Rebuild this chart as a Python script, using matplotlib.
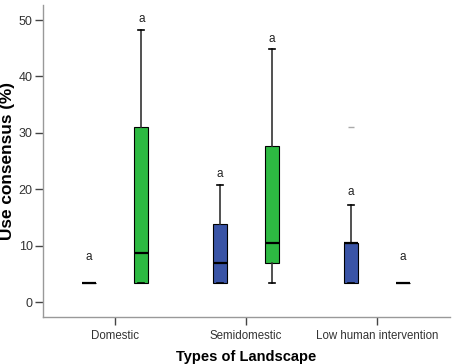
import matplotlib
matplotlib.use("Agg")
import matplotlib.pyplot as plt

# Landscape categories and the two groups drawn in each
landscapes = ["Domestic", "Semidomestic", "Low human intervention"]
group_colors = ["#3a54a6", "#2dba42"]

# Box statistics per landscape: whislo, q1, med, q3, whishi
blue_stats = [
    [3.4, 3.4, 3.4, 3.4, 3.4],
    [3.4, 3.4, 6.9, 13.8, 20.7],
    [3.4, 3.4, 10.4, 10.4, 17.2],
]
green_stats = [
    [3.4, 3.4, 8.7, 31.0, 48.3],
    [3.4, 7.0, 10.4, 27.6, 44.8],
    [3.4, 3.4, 3.4, 3.4, 3.4],
]
blue_outliers = [[], [], [31.1]]
green_outliers = [[], [], []]

# significance letters and the height they sit at
blue_letters = ["a", "a", "a"]
blue_letter_y = [6.9, 21.6, 18.4]
green_letters = ["a", "a", "a"]
green_letter_y = [49.1, 45.6, 6.9]

fig = plt.figure(figsize=(4.54, 3.64), dpi=100)
ax = fig.add_axes([0.095, 0.129, 0.896, 0.857])

offset = 0.2
width = 0.105
groups = [(blue_stats, blue_outliers, blue_letters, blue_letter_y),
          (green_stats, green_outliers, green_letters, green_letter_y)]
for g, (stats, outl, lets, lety) in enumerate(groups):
    for i, s in enumerate(stats):
        pos = i + 1 + (offset if g else -offset)
        d = dict(whislo=s[0], q1=s[1], med=s[2], q3=s[3], whishi=s[4],
                 fliers=outl[i])
        ax.bxp([d], positions=[pos], widths=width, patch_artist=True,
               showfliers=True,
               boxprops=dict(facecolor=group_colors[g], edgecolor="black",
                             linewidth=0.8),
               medianprops=dict(color="black", linewidth=1.6),
               whiskerprops=dict(color="#333333", linewidth=1.2),
               capprops=dict(color="black", linewidth=1.2),
               capwidths=0.045,
               flierprops=dict(marker="_", markersize=5,
                               markeredgecolor="#aaaaaa"))
        ax.text(pos, lety[i], lets[i], ha="center", va="bottom",
                fontsize=8.5, color="#222222", family="Liberation Sans")

ax.set_xlim(0.45, 3.557)
ax.set_ylim(-2.66, 52.66)
ax.set_xticks([1, 2, 3])
ax.set_xticklabels(landscapes)
ax.set_yticks([0, 10, 20, 30, 40, 50])
for sp in ["top", "right"]:
    ax.spines[sp].set_visible(False)
for sp in ["left", "bottom"]:
    ax.spines[sp].set_color("#999999")
    ax.spines[sp].set_linewidth(1.0)
ax.tick_params(axis="both", colors="#444444", length=6, width=1.0,
               pad=1.5, labelcolor="#333333")
ax.tick_params(axis="y", labelsize=9)
ax.tick_params(axis="x", labelsize=8.3, pad=3)
for lab in ax.get_xticklabels() + ax.get_yticklabels():
    lab.set_family("Liberation Sans")

ax.set_xlabel("Types of Landscape", fontsize=10.5, fontweight="bold",
              family="Liberation Sans", labelpad=6)
ax.set_ylabel("Use consensus (%)", fontsize=12.4, fontweight="bold",
              family="Liberation Sans", labelpad=3)

fig.savefig("out.png", dpi=100)
